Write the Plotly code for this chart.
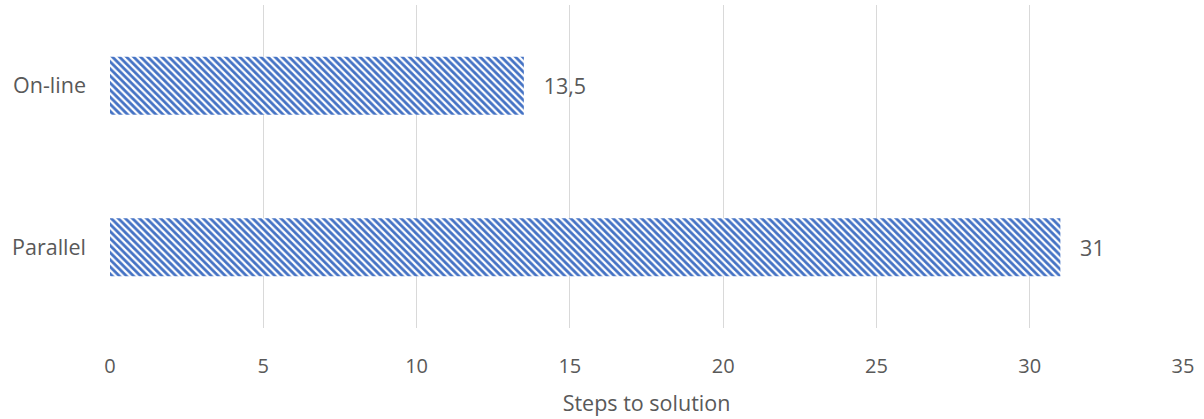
import plotly.graph_objects as go

categories = ["Parallel", "On-line"]
values = [31, 13.5]
x_ticks = [0, 5, 10, 15, 20, 25, 30, 35]
x_title = "Steps to solution"

FONT = "Open Sans, DejaVu Sans, sans-serif"
GREY = "#595959"

fig = go.Figure(
    go.Bar(
        y=categories,
        x=values,
        orientation="h",
        marker=dict(
            color="white",
            line=dict(width=0),
            pattern=dict(shape="\\", fgcolor="#4472C4", bgcolor="white", size=5, solidity=0.55, fillmode="replace"),
        ),
        text=values,
        texttemplate="   %{x}",
        textposition="outside",
        textfont=dict(family=FONT, size=21.5, color=GREY),
        cliponaxis=False,
        width=0.36,
    )
)

fig.update_layout(
    width=1204,
    height=419,
    margin=dict(l=110, r=21, t=5, b=91),
    paper_bgcolor="white",
    plot_bgcolor="white",
    separators=", ",
    showlegend=False,
    font=dict(family=FONT, size=20, color=GREY),
    xaxis=dict(
        range=[0, 35],
        tickvals=x_ticks,
        showgrid=True,
        gridcolor="#D9D9D9",
        gridwidth=1,
        zeroline=False,
        showline=False,
        ticks="",
        ticklabelstandoff=24,
        tickfont=dict(family=FONT, size=20, color=GREY),
        title=dict(text=x_title, font=dict(family=FONT, size=21.5, color=GREY), standoff=17),
    ),
    yaxis=dict(
        showgrid=False,
        zeroline=False,
        showline=False,
        ticks="",
        ticklabelstandoff=23,
        tickfont=dict(family=FONT, size=21.5, color=GREY),
    ),
)

fig.write_html("out.html")
